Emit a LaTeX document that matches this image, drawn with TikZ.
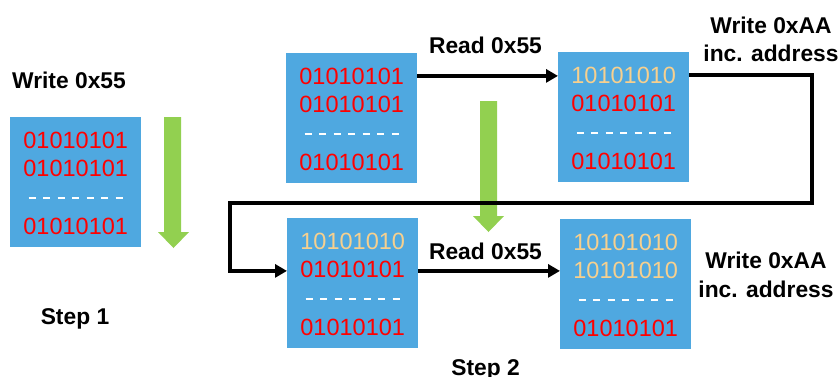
\documentclass[tikz,border=0pt]{standalone}
\usepackage{fontspec}
\setmainfont{Liberation Sans}
\usetikzlibrary{arrows.meta}
\definecolor{boxblue}{HTML}{4FA8E0}
\definecolor{bitred}{HTML}{FF0000}
\definecolor{bitgold}{HTML}{F7D08E}
\definecolor{arrowgreen}{HTML}{92D050}

\begin{document}
\begin{tikzpicture}[x=1pt,y=-1pt,
  membox/.style={fill=boxblue, draw=none, inner sep=0pt, anchor=north west,
                 minimum width=131pt, minimum height=130pt},
  bits/.style={font=\fontsize{23.5}{27}\selectfont, inner sep=0pt, anchor=base},
  lo/.style={bits, text=bitred},
  hi/.style={bits, text=bitgold},
  gap/.style={draw=white, line width=2.5pt, dash pattern=on 7pt off 7.5pt},
  label/.style={font=\fontsize{22.8}{28}\selectfont\bfseries, inner sep=0pt, anchor=base},
  flow/.style={line width=4pt, line join=miter, -{Triangle[length=12pt,width=13pt]}},
  greenarrow/.style={fill=arrowgreen}
]
\useasboundingbox (0,0) rectangle (839,376);

% memory blocks
\node[membox] (m1) at (10,117) {};
\node[membox] (m2) at (286,53) {};
\node[membox] (m3) at (558,52) {};
\node[membox] (m4) at (287,218) {};
\node[membox] (m5) at (560,219) {};

% rows of each block: two words, a gap, the last word
\node[lo] (m1a) at ([yshift=-31pt]m1.north) {01010101};
\node[lo] (m1b) at ([yshift=-59pt]m1.north) {01010101};
\node[lo] (m1c) at ([yshift=-117pt]m1.north) {01010101};
\draw[gap] ([xshift=-47pt,yshift=-81pt]m1.north) -- ([xshift=47pt,yshift=-81pt]m1.north);

\node[lo] (m2a) at ([yshift=-31pt]m2.north) {01010101};
\node[lo] (m2b) at ([yshift=-59pt]m2.north) {01010101};
\node[lo] (m2c) at ([yshift=-117pt]m2.north) {01010101};
\draw[gap] ([xshift=-47pt,yshift=-81pt]m2.north) -- ([xshift=47pt,yshift=-81pt]m2.north);

\node[hi] (m3a) at ([yshift=-31pt]m3.north) {10101010};
\node[lo] (m3b) at ([yshift=-59pt]m3.north) {01010101};
\node[lo] (m3c) at ([yshift=-117pt]m3.north) {01010101};
\draw[gap] ([xshift=-47pt,yshift=-81pt]m3.north) -- ([xshift=47pt,yshift=-81pt]m3.north);

\node[hi] (m4a) at ([yshift=-31pt]m4.north) {10101010};
\node[lo] (m4b) at ([yshift=-59pt]m4.north) {01010101};
\node[lo] (m4c) at ([yshift=-117pt]m4.north) {01010101};
\draw[gap] ([xshift=-47pt,yshift=-81pt]m4.north) -- ([xshift=47pt,yshift=-81pt]m4.north);

\node[hi] (m5a) at ([yshift=-31pt]m5.north) {10101010};
\node[hi] (m5b) at ([yshift=-59pt]m5.north) {10101010};
\node[lo] (m5c) at ([yshift=-117pt]m5.north) {01010101};
\draw[gap] ([xshift=-47pt,yshift=-81pt]m5.north) -- ([xshift=47pt,yshift=-81pt]m5.north);

% green direction arrows
\fill[greenarrow] (164,117) -- (181,117) -- (181,232) -- (189,232) -- (173.5,248)
  -- (158,232) -- (164,232) -- cycle;
\fill[greenarrow] (480,101) -- (497,101) -- (497,216) -- (504,216) -- (488.5,232)
  -- (473,216) -- (480,216) -- cycle;

% flow connectors
\coordinate (loopR) at (812,203);
\coordinate (loopL) at (230,203);
\draw[flow] (m2a -| m2.east) -- (m2a -| m3.west);
\draw[flow] (m3a -| m3.east) -| (loopR) -- (loopL) |- ([yshift=-2pt]m4b.center -| m4.west);
\draw[flow] ([yshift=-2pt]m4b.center -| m4.east) -- ([yshift=-2pt]m4b.center -| m5.west);

% labels
\node[label] (w55) at (69,88) {Write 0x55};
\node[label] (rd1) at (485.5,53) {Read 0x55};
\node[label] (rd2) at (485.5,259) {Read 0x55};
\node[label] (waa1) at (771,33) {Write 0xAA};
\node[label] (inc1) at (771,61) {inc. address};
\node[label] (waa2) at (766,268) {Write 0xAA};
\node[label] (inc2) at (766,297) {inc. address};
\node[label] (st1) at (75,324) {Step 1};
\node[label] (st2) at (485.5,375) {Step 2};
\end{tikzpicture}
\end{document}
